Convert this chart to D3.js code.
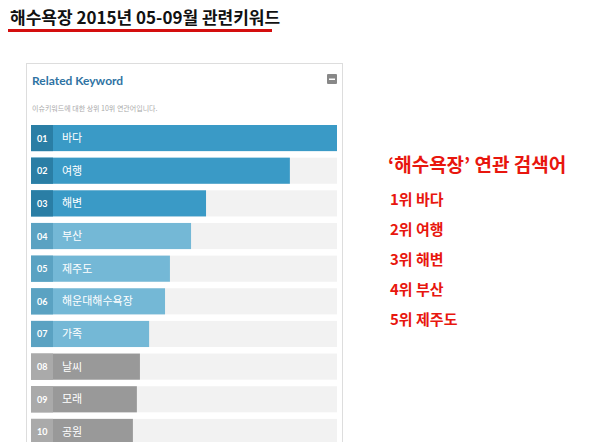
<!DOCTYPE html><html><head><meta charset="utf-8"><script src="https://cdn.jsdelivr.net/npm/d3@7"></script>
<style>body{margin:0;background:#fff;font-family:"Noto Sans CJK KR","Noto Sans",sans-serif}</style></head><body><svg id="c" width="600" height="442"></svg>
<script>
const ranks=["01","02","03","04","05","06","07","08","09","10"];
const keywords=["바다","여행","해변","부산","제주도","해운대해수욕장","가족","날씨","모래","공원"];
const values=[100,84.6,57.2,52.3,45.4,43.8,38.6,35.6,34.6,33.3];
const tiers=[0,0,0,1,1,1,1,2,2,2];
const top5=["1위 바다","2위 여행","3위 해변","4위 부산","5위 제주도"];
const svg=d3.select("#c");
const F='"Noto Sans CJK KR",sans-serif';
svg.append("text").attr("x",10).attr("y",24).attr("font-family",F).attr("font-weight","bold").attr("font-size",17).attr("fill","#111").text("해수욕장 2015년 05-09월 관련키워드");
svg.append("rect").attr("x",8).attr("y",29).attr("width",264).attr("height",3).attr("fill","#d40e0e");
svg.append("rect").attr("x",26.5).attr("y",63.5).attr("width",316).attr("height",390).attr("fill","#fff").attr("stroke","#ddd");
svg.append("text").attr("x",32).attr("y",85).attr("font-family","Lato,sans-serif").attr("font-weight","bold").attr("font-size",12).attr("fill","#2f73a3").text("Related Keyword");
svg.append("rect").attr("x",327).attr("y",74).attr("width",10).attr("height",10).attr("rx",1).attr("fill","#888");
svg.append("rect").attr("x",329).attr("y",78.5).attr("width",6).attr("height",1.5).attr("fill","#fff");
svg.append("text").attr("x",32).attr("y",111).attr("font-family",F).attr("font-size",7).attr("fill","#aaa").text("이슈키워드에 대한 상위 10위 연관어입니다.");
const x=d3.scaleLinear().domain([0,100]).range([31,337]);
const y=d3.scaleBand().domain(ranks).range([125,445]).paddingInner(0.2).paddingOuter(0);
const barC=["#3a9ac6","#74b8d6","#999999"], numC=["#2a7ea5","#5aa2c2","#aaaaaa"];
const g=svg.selectAll("g.r").data(ranks).join("g");
g.append("rect").attr("x",x(0)).attr("y",d=>y(d)).attr("width",x(100)-x(0)).attr("height",y.bandwidth()).attr("fill","#f2f2f2");
g.append("rect").attr("x",x(0)).attr("y",d=>y(d)).attr("width",(d,i)=>x(values[i])-x(0)).attr("height",y.bandwidth()).attr("fill",(d,i)=>barC[tiers[i]]);
g.append("rect").attr("x",x(0)).attr("y",d=>y(d)).attr("width",22).attr("height",y.bandwidth()).attr("fill",(d,i)=>numC[tiers[i]]);
g.append("text").attr("x",x(0)+6).attr("y",d=>y(d)+y.bandwidth()/2+3.5).attr("font-family","Lato,sans-serif").attr("font-weight","bold").attr("font-size",9).attr("fill","#fff").text(d=>d);
g.append("text").attr("x",x(0)+31).attr("y",d=>y(d)+y.bandwidth()/2+4).attr("font-family",F).attr("font-size",11).attr("fill","#fff").text((d,i)=>keywords[i]);
svg.append("text").attr("x",388).attr("y",172).attr("font-family",F).attr("font-weight","bold").attr("font-size",19).attr("fill","#e8160e").text("‘해수욕장’ 연관 검색어");
svg.selectAll("text.t").data(top5).join("text").attr("x",390).attr("y",(d,i)=>205+i*30).attr("font-family",F).attr("font-weight","bold").attr("font-size",15).attr("fill","#e8160e").text(d=>d);
</script></body></html>
